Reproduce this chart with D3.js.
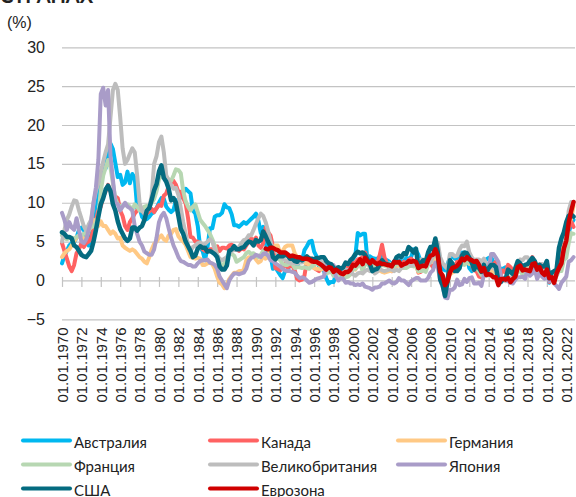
<!DOCTYPE html>
<html><head><meta charset="utf-8">
<script src="https://cdn.jsdelivr.net/npm/d3@7"></script>
<style>body{margin:0;background:#fff}svg{display:block}</style>
</head><body>
<svg id="c" width="576" height="497"></svg>
<script>
// Quarterly year-on-year inflation (%), Q1 1970 .. Q4 2022
const startYear = 1970;
const euroStartYear = 1991;
const yTickValues = [-5, 0, 5, 10, 15, 20, 25, 30];
const xTickYears = d3.range(1970, 2023, 2);
const xTickLabels = xTickYears.map(y => "01.01." + y);
const seriesNames = ["Австралия","Канада","Германия","Франция","Великобритания","Япония","США","Еврозона"];
const seriesColors = ["#00B8F0","#FF6262","#FFC985","#B7D7B2","#BDBDBD","#A99CC8","#046B80","#D00000"];

const australia = [
2.2,3.2,3.8,4.5, 4.8,4.9,5.5,6.5, 6.8,6.5,5.6,4.5, 6.0,8.2,9.8,12.2, 13.0,14.4,14.4,16.3,
17.6,16.9,15.1,13.3, 13.6,12.3,12.6,14.0, 12.5,13.7,13.2,9.3, 9.4,8.2,7.8,7.9, 8.2,8.6,8.8,9.3,
10.0,10.6,10.5,9.5, 9.1,8.8,9.1,10.3, 10.4,10.7,11.3,11.8, 11.5,11.2,9.0,8.6, 7.0,4.2,3.8,2.6,
4.2,6.7,6.7,8.2, 8.4,8.4,8.7,9.8, 9.4,9.3,8.5,7.1, 7.1,6.9,7.2,7.5, 7.3,7.6,7.9,8.2,
8.6,7.7,6.1,6.9, 4.9,3.4,3.3,1.5, 1.7,1.2,0.7,0.3, 1.2,1.2,2.2,1.9, 1.7,1.8,2.6,2.5,
3.9,4.4,5.0,5.1, 3.7,3.1,1.8,1.5, 1.3,0.3,-0.4,-0.2, -0.2,0.7,1.3,1.6, 1.2,1.1,1.7,1.8,
2.8,3.2,6.1,5.8, 6.0,6.0,2.5,3.1, 2.9,2.8,2.8,3.0, 3.4,2.7,2.6,2.4, 2.0,2.5,2.3,2.6,
2.4,2.5,2.9,2.8, 3.0,4.0,3.9,3.3, 2.4,2.1,1.9,3.0, 4.2,4.4,5.0,3.7, 2.5,1.5,1.3,2.1,
2.9,3.1,2.8,2.7, 3.3,3.6,3.4,3.0, 1.6,1.2,2.0,2.2, 2.5,2.4,2.2,2.7, 2.9,3.0,2.3,1.7,
1.3,1.5,1.5,1.7, 1.3,1.0,1.3,1.5, 2.1,1.9,1.8,1.9, 1.9,2.1,1.9,1.8, 1.3,1.6,1.7,1.8,
2.2,-0.3,0.7,0.9, 1.1,3.8,3.0,3.5, 5.1,6.1,7.3,7.8];

const canada = [
4.8,3.8,2.8,1.8, 1.2,2.0,3.5,4.0, 4.8,4.3,4.8,5.0, 5.5,6.6,7.8,9.0, 9.5,10.8,11.5,12.3,
11.5,10.6,10.8,10.6, 9.0,8.3,7.0,6.5, 7.5,8.0,8.6,9.0, 9.3,9.0,8.6,8.6, 8.9,9.2,8.8,9.3,
9.7,9.6,10.9,11.2, 12.1,12.5,12.8,12.3, 11.4,11.4,10.6,9.9, 8.0,5.6,5.5,5.0, 5.0,4.8,4.0,3.8,
3.8,4.0,4.0,4.1, 4.4,3.8,4.2,4.2, 4.1,4.5,4.6,4.3, 4.0,3.8,4.1,4.0, 4.5,5.0,5.4,5.1,
5.5,4.5,4.2,4.8, 6.8,6.2,5.8,4.4, 1.6,1.5,1.3,1.6, 2.1,1.7,1.8,1.9, 1.3,0.2,0.0,0.1,
0.6,2.5,2.3,2.4, 1.6,1.4,1.2,1.8, 2.2,1.6,1.7,1.5, 1.1,1.0,1.1,1.0, 0.7,1.6,1.8,2.3,
2.2,2.3,2.7,2.8, 3.0,3.6,2.7,1.9, 1.3,1.7,2.1,3.2, 4.6,3.0,2.2,1.6, 1.2,2.3,2.3,2.4,
1.9,2.4,2.0,2.6, 2.8,2.4,2.4,1.0, 1.1,2.2,2.2,2.4, 2.2,1.7,3.4,2.6, 1.1,0.4,-0.9,0.1,
1.9,1.8,1.8,2.4, 2.3,3.3,2.7,2.9, 2.5,2.0,1.3,1.2, 0.5,0.4,1.3,0.7, 1.5,2.0,2.1,2.4,
1.0,0.8,1.3,1.0, 2.0,1.7,1.3,1.5, 2.1,1.6,1.2,1.4, 1.7,2.2,3.0,2.4, 1.4,2.0,2.0,1.9,
2.4,-0.2,0.1,0.7, 1.0,3.4,3.7,4.7, 5.1,6.8,7.6,6.9];

const germany = [
3.0,3.5,3.8,4.0, 4.5,5.0,5.5,5.8, 5.8,5.2,5.5,6.4, 7.0,7.8,7.4,7.0, 7.6,7.0,7.0,6.5,
6.0,6.3,6.0,5.4, 5.5,4.5,4.2,4.0, 3.8,4.0,3.8,3.4, 3.0,2.8,2.4,2.2, 3.0,4.0,4.7,5.0,
5.5,5.8,5.3,5.1, 5.8,6.0,6.5,6.6, 5.7,5.3,5.0,4.6, 3.8,3.0,2.9,2.8, 2.9,2.8,2.0,2.0,
2.2,2.3,2.1,1.5, 0.5,-0.3,-0.5,-1.0, -0.5,0.2,0.6,1.0, 1.0,1.2,1.2,1.4, 2.6,3.0,3.0,3.2,
2.7,2.3,2.5,3.2, 2.8,3.0,4.5,3.8, 4.5,4.5,3.5,3.8, 4.3,4.5,4.5,4.5, 3.5,3.0,3.0,2.6,
2.3,2.2,2.0,1.8, 1.6,1.5,1.5,1.4, 1.7,1.6,2.0,1.8, 1.3,1.3,0.9,0.6, 0.2,0.6,0.6,0.8,
1.6,1.4,1.9,2.4, 2.4,2.9,2.6,2.0, 2.1,1.2,1.2,1.3, 1.1,1.0,1.1,1.2, 1.2,2.0,1.8,2.0,
1.6,1.6,2.0,2.3, 2.1,2.0,1.9,1.1, 1.6,1.9,1.9,2.4, 2.8,2.4,3.3,2.4, 0.9,0.7,-0.5,0.0,
0.8,1.0,1.2,1.3, 2.0,2.4,2.4,2.5, 2.1,2.1,1.9,2.0, 1.7,1.2,1.9,1.2, 1.3,1.3,0.8,0.8,
-0.3,0.5,0.2,0.3, 0.5,-0.1,0.4,0.8, 1.9,2.0,1.7,1.6, 1.6,1.6,2.0,2.5, 1.4,2.0,1.7,1.1,
1.7,0.9,-0.1,-0.2, 1.0,2.0,3.8,4.5, 4.9,7.4,7.9,9.6];

const france = [
5.8,5.5,5.3,5.5, 5.5,5.4,5.6,5.8, 5.8,6.0,6.2,6.8, 6.8,7.0,7.4,8.3, 11.5,13.5,14.5,15.5,
14.5,12.5,10.5,9.8, 9.5,9.6,9.7,9.8, 9.5,9.0,9.8,9.5, 9.0,9.0,9.5,9.6, 9.5,10.0,10.5,11.5,
13.0,13.5,13.6,13.4, 13.0,12.8,13.5,14.3, 14.2,13.8,11.5,10.2, 9.5,9.0,9.5,9.8, 8.8,7.8,7.4,7.0,
6.5,6.0,5.3,4.5, 3.3,2.3,1.9,2.2, 2.9,3.4,3.4,3.2, 2.4,2.6,2.8,3.0, 3.5,3.7,3.4,3.5,
3.2,3.0,3.3,3.8, 3.4,3.2,3.3,2.7, 3.0,2.8,2.6,2.1, 2.0,2.0,2.2,2.1, 1.6,1.7,1.7,1.6,
1.7,1.6,1.5,1.8, 2.0,2.4,2.0,1.7, 1.7,0.9,1.0,1.2, 0.6,1.0,0.8,0.4, 0.2,0.4,0.5,0.8,
1.4,1.5,1.9,2.1, 1.2,2.1,2.1,1.8, 2.2,1.5,1.6,1.8, 2.0,1.9,1.9,2.2, 2.0,1.7,2.2,2.2,
1.6,1.6,1.6,1.8, 1.9,1.8,1.9,1.2, 1.2,1.3,1.1,2.0, 2.8,3.2,3.6,2.8, 0.8,0.0,-0.7,-0.2,
1.2,1.7,1.7,1.6, 1.8,2.1,2.0,2.3, 2.3,2.0,1.9,1.6, 1.2,0.7,1.2,0.6, 0.7,0.8,0.5,0.5,
-0.4,0.1,0.2,0.1, 0.2,-0.2,0.2,0.4, 1.3,1.2,0.7,1.1, 1.3,1.6,2.3,2.2, 1.2,1.3,1.1,0.8,
1.5,0.3,0.8,0.0, 0.6,1.2,1.2,2.6, 2.9,4.8,6.1,6.0];

const uk = [
5.0,6.5,7.8,8.5, 9.5,10.3,10.2,9.0, 8.0,7.0,6.4,7.2, 7.8,10.0,11.5,12.5, 14.0,15.3,16.5,17.5,
21.0,24.5,25.3,24.5, 21.0,17.0,15.0,15.5, 16.3,17.0,16.5,13.5, 10.0,9.0,8.6,8.9, 9.3,11.0,15.0,16.0,
17.8,18.5,16.5,13.5, 12.8,12.3,11.8,11.9, 11.0,9.3,7.5,6.0, 4.5,3.8,4.3,4.5, 4.8,4.9,4.6,4.7,
5.0,5.3,5.0,4.0, 3.2,2.8,2.6,2.8, 3.0,3.5,3.8,3.9, 4.0,4.3,4.8,5.2, 5.3,5.8,5.8,6.5,
7.3,8.0,8.6,8.3, 7.5,6.4,5.0,4.0, 3.9,3.6,3.2,2.8, 2.6,2.4,2.3,2.2, 2.2,2.2,2.3,2.3,
2.7,2.8,2.9,2.7, 2.6,2.5,2.3,2.4, 2.0,1.8,1.8,1.8, 1.6,1.7,1.5,1.4, 1.6,1.4,1.3,1.2,
0.8,0.6,0.9,1.0, 0.9,1.2,1.4,1.2, 1.6,0.9,1.1,1.5, 1.3,1.2,1.3,1.4, 1.4,1.2,1.4,1.2,
1.6,1.9,2.3,2.3, 1.9,2.0,2.4,2.4, 2.7,2.7,1.9,2.1, 2.3,3.0,4.4,4.9, 3.0,2.2,1.8,1.5,
3.4,3.4,3.1,3.2, 4.0,4.5,4.4,5.0, 3.6,3.0,2.6,2.7, 2.7,2.4,2.8,2.2, 1.9,1.8,1.6,1.3,
0.3,0.0,0.1,-0.1, 0.3,0.3,0.6,0.9, 1.8,2.7,2.6,3.0, 3.0,2.4,2.5,2.4, 1.8,2.1,2.1,1.5,
1.8,0.8,1.0,0.7, 0.7,1.5,2.0,4.2, 5.5,9.0,10.1,10.1];

const japan = [
8.7,7.8,6.5,7.5, 6.8,6.5,8.0,6.5, 5.0,4.8,5.3,6.5, 7.5,10.0,12.0,15.5, 24.0,24.8,22.5,24.5,
16.0,13.0,10.0,9.8, 9.0,9.5,10.0,9.5, 9.3,9.0,7.0,6.0, 5.0,4.5,3.7,3.5, 3.3,3.3,4.0,5.5,
7.5,8.3,8.7,8.0, 6.7,5.5,4.5,3.8, 3.0,2.5,2.4,2.2, 2.0,2.0,1.8,1.8, 2.2,2.5,2.6,2.6,
2.7,2.3,2.2,2.0, 1.5,0.5,0.0,-0.5, -1.0,0.0,0.5,0.9, 0.9,0.8,0.9,1.0, 1.5,2.5,2.9,3.0,
3.3,3.2,3.0,3.4, 3.5,3.2,2.6,2.5, 2.2,2.0,1.8,1.5, 1.3,1.2,1.2,1.1, 1.0,0.6,0.3,0.4,
0.3,0.0,-0.3,-0.2, 0.0,0.2,0.3,0.4, 0.5,1.9,2.0,2.0, 2.0,0.5,0.0,0.3, 0.2,-0.3,-0.2,-0.4,
-0.4,-0.6,-0.5,-0.6, -0.4,-0.8,-0.9,-1.0, -1.2,-0.9,-0.9,-0.8, -0.4,-0.4,-0.2,0.0, -0.3,-0.4,-0.2,0.3,
0.0,0.0,-0.3,-0.6, -0.1,0.1,0.3,0.3, 0.0,0.0,0.0,0.3, 1.0,1.3,2.3,1.7, 0.0,-0.8,-2.2,-2.3,
-1.2,-1.2,-0.9,0.1, -0.6,-0.5,0.2,-0.2, 0.3,0.4,-0.4,-0.4, -0.3,-0.7,0.7,1.1, 1.4,3.4,3.4,2.9,
2.4,0.6,0.2,0.3, -0.1,-0.3,-0.4,0.1, 0.4,0.4,0.5,0.2, 1.4,0.6,0.9,1.4, 0.2,0.9,0.5,0.2,
0.7,-0.1,0.2,-0.4, -0.7,-1.1,-0.3,0.1, 0.5,2.4,2.6,3.0];

const usa = [
6.2,6.0,5.6,5.6, 5.4,4.5,4.3,3.8, 3.3,3.1,3.0,3.4, 3.8,5.0,6.5,8.2, 9.8,10.6,11.7,12.2,
11.5,9.8,9.0,7.6, 6.6,6.0,5.4,5.1, 5.4,6.8,6.8,6.4, 6.8,7.0,7.8,9.0, 9.3,10.4,11.6,12.4,
14.0,14.8,13.2,12.7, 11.8,10.3,10.6,10.0, 8.3,6.6,6.0,5.0, 4.4,3.8,3.0,3.2, 4.1,4.4,4.2,4.2,
3.7,3.8,3.6,3.4, 3.0,1.8,1.4,1.4, 1.9,3.8,4.0,4.4, 4.0,4.0,4.2,4.3, 4.7,5.0,4.9,4.5,
5.2,5.0,5.2,6.3, 5.7,5.0,4.4,3.0, 2.7,3.1,3.1,3.1, 3.3,3.2,2.8,2.8, 2.5,2.4,2.8,2.6,
2.8,3.1,2.8,2.8, 2.7,2.9,2.9,3.0, 3.0,2.5,2.2,2.1, 1.6,1.4,1.7,1.5, 1.7,2.3,2.1,2.6,
2.9,3.4,3.7,3.5, 3.6,3.3,2.7,2.1, 1.2,1.4,1.5,2.0, 2.6,2.2,2.1,2.0, 1.9,2.3,3.0,3.2,
3.0,3.5,3.4,4.3, 4.0,3.6,4.1,1.6, 2.2,2.6,2.4,3.6, 4.3,4.0,5.4,3.7, 0.1,-0.6,-2.0,-0.2,
2.6,2.2,1.2,1.2, 1.6,3.2,3.6,3.5, 2.9,2.3,1.4,2.2, 1.6,1.1,2.0,1.0, 1.6,2.0,2.0,1.7,
-0.1,-0.2,0.2,0.2, 1.4,1.1,0.8,1.6, 2.5,2.2,1.7,2.0, 2.1,2.5,2.9,2.5, 1.6,2.0,1.8,1.8,
2.5,0.3,1.0,1.2, 1.4,4.2,5.4,6.2, 7.5,8.3,8.5,8.2];

const eurozone = [
4.1,4.0,4.2,4.2, 4.0,3.9,3.6,3.6, 3.6,3.4,3.1,3.2, 3.1,3.0,3.0,2.8, 2.8,2.8,2.7,2.5,
2.4,2.4,2.2,2.0, 1.7,1.4,1.7,1.6, 1.1,1.4,1.2,0.9, 0.8,1.1,1.1,1.4, 2.0,1.9,2.3,2.7,
2.1,2.9,2.5,2.2, 2.6,2.3,2.1,2.3, 2.1,2.1,2.0,2.0, 1.8,2.4,2.3,2.4, 1.9,2.1,2.2,2.5,
2.4,2.5,2.4,1.6, 1.8,1.9,1.8,2.6, 3.2,3.3,4.0,3.2, 1.1,0.6,-0.6,-0.1, 1.0,1.6,1.7,1.9,
2.3,2.8,2.6,3.0, 2.7,2.6,2.4,2.5, 2.0,1.2,1.6,0.7, 0.8,0.7,0.4,0.4, -0.6,0.2,0.2,0.1,
0.3,-0.2,0.2,0.5, 1.7,1.9,1.3,1.4, 1.3,1.2,2.1,2.2, 1.4,1.7,1.0,0.7, 1.4,0.3,0.4,-0.3,
0.9,1.6,2.2,4.1, 5.1,7.4,8.9,10.1];

const seriesValues = [australia, canada, germany, france, uk, japan, usa, eurozone];
const seriesStart = [startYear, startYear, startYear, startYear, startYear, startYear, startYear, euroStartYear];

const svg = d3.select("#c");
const x = d3.scaleLinear().domain([1970, 2022.9]).range([62, 575]);
const y = d3.scaleLinear().domain([-5, 30]).range([319.3, 47.3]);
const axisFont = "'Liberation Sans', Arial, sans-serif";

// title fragment cut at top + unit
svg.append("text").attr("x", 0).attr("y", 3).attr("font-family", "Lato, sans-serif")
  .attr("font-weight", "bold").attr("font-size", 20).attr("fill", "#222").text("СТРАНАХ");
svg.append("text").attr("x", 7).attr("y", 28).attr("font-family", axisFont)
  .attr("font-size", 16).attr("fill", "#222").text("(%)");

// gridlines
svg.append("g").selectAll("line").data(yTickValues).join("line")
  .attr("x1", 62).attr("x2", 575)
  .attr("y1", d => y(d) + 0.5).attr("y2", d => y(d) + 0.5)
  .attr("stroke", "#C3C3C3").attr("stroke-width", 1.2);

// y axis labels
const yAxis = d3.axisLeft(y).tickValues(yTickValues).tickSize(0).tickPadding(0).tickFormat(d3.format("d"));
const gy = svg.append("g").attr("transform", "translate(45,0)").call(yAxis);
gy.select(".domain").remove();
gy.selectAll("text").attr("font-family", axisFont).attr("font-size", 16).attr("fill", "#222");

// x axis at zero
const xAxis = d3.axisBottom(x).tickValues(xTickYears).tickSize(6)
  .tickFormat((d, i) => xTickLabels[i]);
const gx = svg.append("g").attr("transform", `translate(0,${y(0) + 0.5})`).call(xAxis);
gx.select(".domain").remove();
gx.selectAll(".tick line").attr("y1", -4).attr("y2", 6).attr("stroke", "#C3C3C3").attr("stroke-width", 1.2);
gx.selectAll(".tick text")
  .attr("transform", `translate(0,${327 - y(0)}) rotate(-90)`)
  .attr("x", 0).attr("y", 0).attr("dy", "0.36em")
  .attr("text-anchor", "end")
  .attr("font-family", axisFont).attr("font-size", 15).attr("fill", "#222");

// lines
const line = d3.line().x(d => x(d[0])).y(d => y(d[1])).curve(d3.curveLinear);
const gl = svg.append("g");
seriesValues.forEach((vals, k) => {
  const pts = vals.map((v, i) => [seriesStart[k] + i / 4, v]);
  gl.append("path").datum(pts).attr("d", line).attr("fill", "none")
    .attr("stroke", seriesColors[k]).attr("stroke-width", k >= 6 ? 4.5 : 4)
    .attr("stroke-linejoin", "round").attr("stroke-linecap", "round");
});

// legend
const legCols = [22, 209, 397];
const legRows = [440.5, 464.5, 488.5];
const lg = svg.append("g");
seriesNames.forEach((name, k) => {
  const cx = legCols[k % 3], cy = legRows[Math.floor(k / 3)];
  lg.append("line").attr("x1", cx + 1).attr("x2", cx + 48).attr("y1", cy).attr("y2", cy)
    .attr("stroke", seriesColors[k]).attr("stroke-width", 4).attr("stroke-linecap", "round");
  lg.append("text").attr("x", cx + 52).attr("y", cy + 2).attr("dy", "0.35em")
    .attr("font-family", "Lato, sans-serif").attr("font-size", 15).attr("fill", "#222").text(name);
});
</script>
</body></html>
